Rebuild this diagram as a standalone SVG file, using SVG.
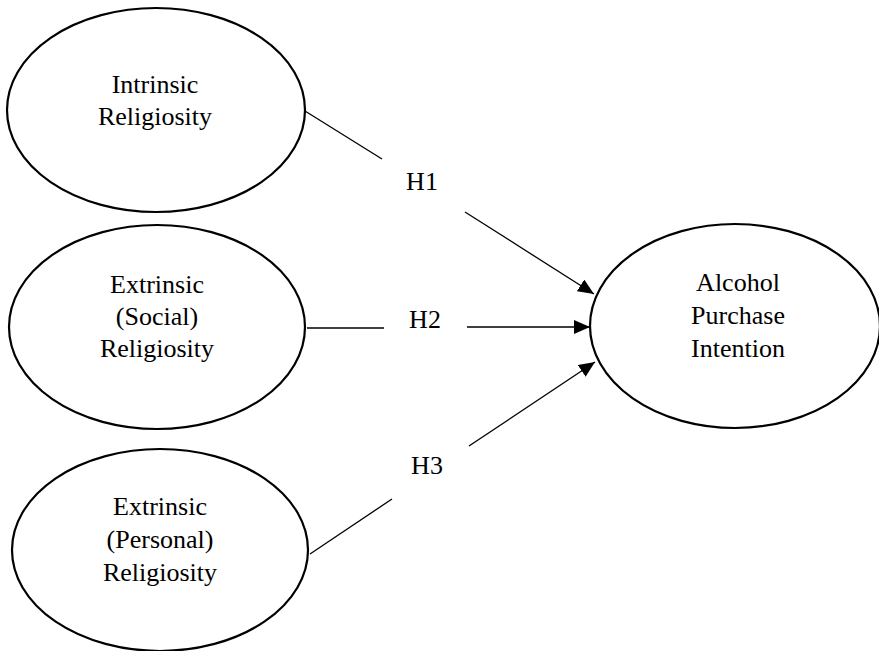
<svg xmlns="http://www.w3.org/2000/svg" width="879" height="651" viewBox="0 0 879 651">
<style>
.node ellipse{fill:#fff;stroke:#000;stroke-width:2.2}
text{font-family:"Liberation Serif","Times New Roman",serif;font-size:26px;fill:#000;text-anchor:middle}
.conn line{stroke:#000;stroke-width:1.3}
</style>
<defs>
<marker id="arr" markerUnits="userSpaceOnUse" markerWidth="17" markerHeight="14" refX="16" refY="7" orient="auto">
<path d="M0,0 L16,7 L0,14 Z" fill="#000"/>
</marker>
</defs>
<rect width="879" height="651" fill="#fff"/>
<g id="intrinsic" class="node">
<ellipse cx="156" cy="110" rx="149" ry="102"/>
<text x="155" y="93">Intrinsic</text>
<text x="155" y="125">Religiosity</text>
</g>
<g id="extrinsic-social" class="node">
<ellipse cx="157" cy="327" rx="148" ry="102"/>
<text x="157" y="293">Extrinsic</text>
<text x="157" y="325">(Social)</text>
<text x="157" y="357">Religiosity</text>
</g>
<g id="extrinsic-personal" class="node">
<ellipse cx="160" cy="550" rx="148" ry="101"/>
<text x="160" y="515">Extrinsic</text>
<text x="160" y="548">(Personal)</text>
<text x="160" y="581">Religiosity</text>
</g>
<g id="alcohol" class="node">
<ellipse cx="735" cy="326" rx="145" ry="102"/>
<text x="738" y="291">Alcohol</text>
<text x="738" y="324">Purchase</text>
<text x="738" y="357">Intention</text>
</g>
<g id="connectors" class="conn">
<line x1="305" y1="111" x2="382" y2="159"/>
<line x1="465" y1="212" x2="594" y2="294" marker-end="url(#arr)"/>
<text x="422" y="190">H1</text>
<line x1="307" y1="328" x2="384" y2="328"/>
<line x1="467" y1="327" x2="590" y2="327" marker-end="url(#arr)"/>
<text x="425" y="328">H2</text>
<line x1="310" y1="554" x2="392" y2="499"/>
<line x1="469" y1="446" x2="595" y2="362" marker-end="url(#arr)"/>
<text x="427" y="474">H3</text>
</g>
</svg>
